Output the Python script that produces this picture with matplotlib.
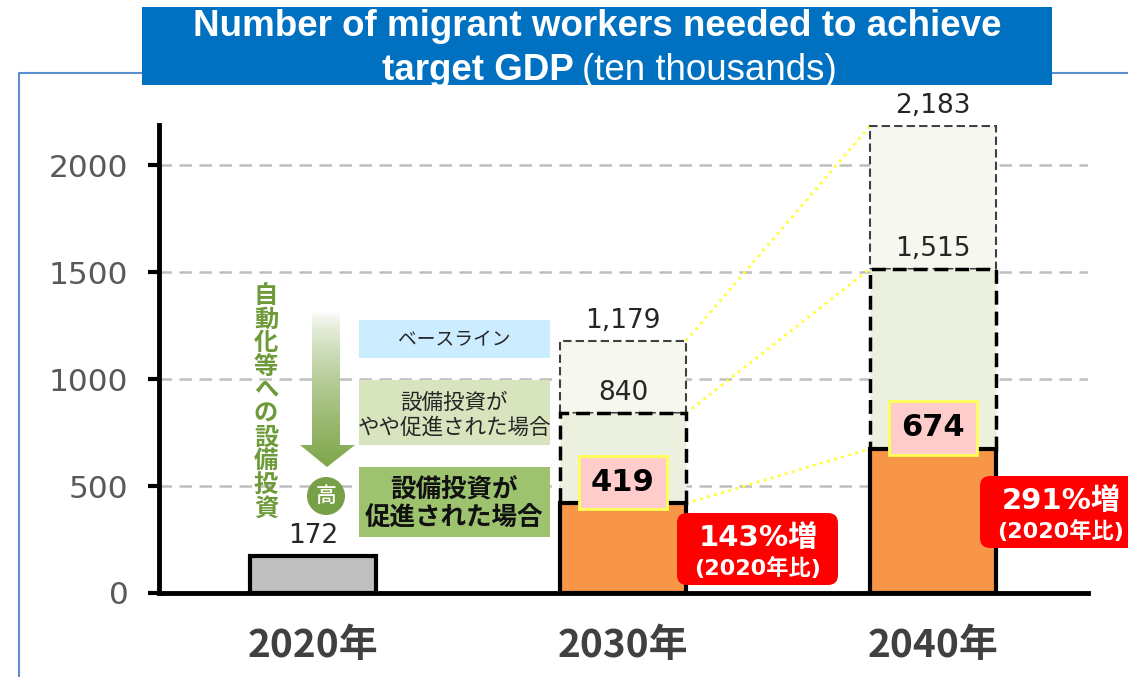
import matplotlib
matplotlib.use('Agg')
import matplotlib.pyplot as plt
import numpy as np
from matplotlib.patches import Rectangle, FancyBboxPatch, Polygon, Circle
from matplotlib.colors import to_rgb

plt.rcParams['font.family'] = ['DejaVu Sans', 'Noto Sans CJK JP']
JP = ['Noto Sans CJK JP', 'DejaVu Sans']

# data (ten thousands of workers)
years = ['2020年', '2030年', '2040年']
promoted = [172, 419, 674]        # 設備投資が促進された場合
somewhat = [840, 1515]            # 設備投資がやや促進された場合 (2030, 2040)
baseline = [1179, 2183]           # ベースライン (2030, 2040)
growth = ['143%増', '291%増']      # vs 2020 (2030, 2040)

fig = plt.figure(figsize=(11.28, 6.77), dpi=100)
ax = fig.add_axes([159 / 1128, 84 / 677, 929 / 1128, 468 / 677])

x = np.arange(len(years))
w = 0.406
xf = x[1:]
prom_f = np.array(promoted[1:])
some_f = np.array(somewhat)
base_f = np.array(baseline)

# stacked scenario bars
ax.bar(xf, base_f - some_f, bottom=some_f, width=w, color='#F6F8EF',
       edgecolor='#404040', linestyle=(0, (4, 2)), linewidth=1.5, zorder=2)
ax.bar(xf, some_f - prom_f, bottom=prom_f, width=w, color='#EBF1DE',
       edgecolor='black', linestyle=(0, (4, 2)), linewidth=2.5, zorder=2)
ax.bar(x[0], promoted[0], width=w, color='#BFBFBF', edgecolor='black',
       linewidth=3, zorder=3)
ax.bar(xf, prom_f, width=w, color='#F79646', edgecolor='black',
       linewidth=3, zorder=3)

# yellow dotted connectors 2030 -> 2040
for a, b in [(promoted[1], promoted[2]), (somewhat[0], somewhat[1]),
             (baseline[0], baseline[1])]:
    ax.plot([1 + w / 2, 2 - w / 2], [a, b], color='#FFFF33', linestyle=':',
            linewidth=2, zorder=1)

# value labels
for xi, v in [(0, promoted[0]), (1, somewhat[0]), (2, somewhat[1]),
              (1, baseline[0]), (2, baseline[1])]:
    ax.annotate(f'{v:,}', (xi, v), xytext=(0, 5), textcoords='offset points',
                ha='center', va='bottom', fontsize=19, color='#262626',
                zorder=5)
for xi, v in zip(xf, prom_f):
    ax.annotate(str(v), (xi, v), xytext=(0, 15), textcoords='offset points',
                ha='center', va='center', fontsize=22, fontweight='bold',
                color='black', zorder=6,
                bbox=dict(boxstyle='square,pad=0.4', fc='#FFCCCC',
                          ec='#FFFF55', lw=2))

# axes styling
ax.set_xlim(-0.497, 2.5)
ax.set_ylim(0, 2187)
ax.set_yticks([0, 500, 1000, 1500, 2000])
ax.set_xticks(x)
ax.set_xticklabels(years, family=JP, fontsize=28, fontweight='bold',
                   color='#404040')
ax.tick_params(axis='x', length=0, pad=24)
ax.tick_params(axis='y', length=8, width=3, color='black', pad=14,
               labelsize=22.5, labelcolor='#595959')
ax.yaxis.grid(True, color='#BFBFBF', linestyle=(0, (5, 3)), linewidth=1.8)
ax.set_axisbelow(True)
for s in ['top', 'right']:
    ax.spines[s].set_visible(False)
ax.spines['left'].set_linewidth(3.5)
ax.spines['bottom'].set_linewidth(3.5)
ax.set_facecolor('none')

# overlay in pixel coordinates for title, frame and legend panel
ov = fig.add_axes([0, 0, 1, 1])
ov.axis('off')

ov.plot([19, 19, 1128], [677, 73, 73], color='#5B8FD0', linewidth=1.5,
        zorder=1)
title_box = Rectangle((142, 7), 910, 78, facecolor='#0070C0',
                      edgecolor='none', zorder=2)
ov.add_patch(title_box)
t1 = ov.text(597, 26, 'Number of migrant workers needed to achieve',
             family='Liberation Sans', fontweight='bold', fontsize=26.5,
             color='white', ha='center', va='center', zorder=3)
t2 = ov.text(574, 71, 'target GDP', family='Liberation Sans',
             fontweight='bold', fontsize=26.5, color='white', ha='right',
             va='center', zorder=3)
t3 = ov.text(582, 71, '(ten thousands)', family='Liberation Sans',
             fontsize=26.5, color='white', ha='left', va='center', zorder=3)
for t in (t1, t2, t3):
    t.set_clip_path(title_box)

# gradient arrow
green = np.array(to_rgb('#7FA64A'))
tt = np.linspace(0, 1, 200)[:, None] ** 0.7
grad = (1 - tt) * np.ones(3) + tt * green
grad = np.repeat(grad[:, None, :], 2, axis=1)
im = ov.imshow(grad, extent=(300, 356, 467, 312), origin='upper',
               aspect='auto', zorder=3)
arrow = Polygon([(312, 312), (340, 312), (340, 445), (355, 445), (327, 467),
                 (300, 445), (312, 445)], closed=True, facecolor='none',
                edgecolor='none', transform=ov.transData)
ov.add_patch(arrow)
im.set_clip_path(arrow)

ov.add_patch(Circle((326, 496), 19, facecolor='#78A046', edgecolor='none',
                    zorder=3))
ov.text(326, 496, '高', family=JP, fontsize=15, fontweight='medium',
        color='white', ha='center', va='center', zorder=4)

for i, ch in enumerate('自動化等への設備投資'):
    ov.text(266, 296 + i * 23.6, ch, family=JP, fontsize=17.5,
            fontweight='bold', color='#6E9A3A', ha='center', va='center',
            zorder=3)

ov.add_patch(Rectangle((359, 320), 191, 38, facecolor='#CCECFF',
                       edgecolor='none', zorder=3))
ov.text(454, 340, 'ベースライン', family=JP, fontsize=13.5, color='#262626',
        ha='center', va='center', zorder=4)
ov.add_patch(Rectangle((359, 380), 191, 65, facecolor='#D7E4BD',
                       edgecolor='none', zorder=3))
ov.text(454, 415, '設備投資が\nやや促進された場合', family=JP, fontsize=15.5,
        color='#262626', ha='center', va='center', linespacing=1.2, zorder=4)
ov.add_patch(Rectangle((359, 467), 191, 70, facecolor='#9DC36F',
                       edgecolor='none', zorder=3))
ov.text(454, 503, '設備投資が\n促進された場合', family=JP, fontsize=18.4,
        fontweight='bold', color='#111111', ha='center', va='center',
        linespacing=1.05, zorder=4)

# red growth callouts
for (bx, by), label in zip([(677, 513), (980, 476)], growth):
    ov.add_patch(FancyBboxPatch((bx, by), 161, 72,
                                boxstyle='round,pad=0,rounding_size=10',
                                facecolor='#FF0000', edgecolor='none',
                                zorder=5))
    cx = bx + 81
    ov.text(cx, by + 25, label, fontsize=21, fontweight='bold',
            color='white', ha='center', va='center', zorder=6)
    ov.text(cx, by + 55, '(2020年比)', fontsize=16, fontweight='bold',
            color='white', ha='center', va='center', zorder=6)

ov.set_xlim(0, 1128)
ov.set_ylim(677, 0)

fig.savefig('out.png', dpi=100)
